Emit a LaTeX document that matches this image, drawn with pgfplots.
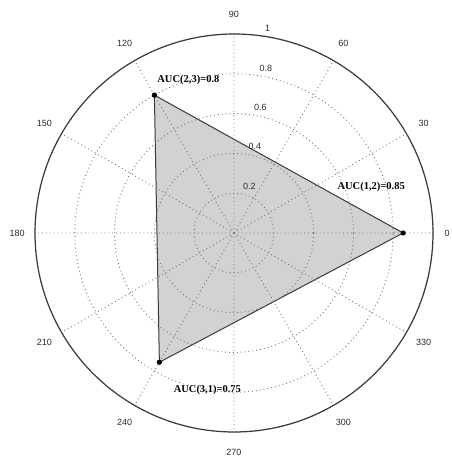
\documentclass[border=0pt]{standalone}
\usepackage{fontspec}
\setmainfont{Liberation Serif}
\newfontfamily\arial{Liberation Sans}
\usepackage{pgfplots}
\pgfplotsset{compat=1.18}
\usepgfplotslibrary{polar}
\definecolor{gridc}{HTML}{707070}
\definecolor{linec}{HTML}{3A3A3A}
\definecolor{fillc}{HTML}{D2D2D2}
\definecolor{labc}{HTML}{2A2A2A}
\tikzset{
  tl/.style={labc, font=\arial\fontsize{9}{10}\selectfont, inner sep=0pt},
  al/.style={black, font=\fontsize{10.5}{12}\selectfont\bfseries, inner sep=0pt},
}
\begin{document}
\begin{tikzpicture}
\begin{polaraxis}[
  width=398pt, height=398pt, scale only axis,
  ymin=0, ymax=1,
  xtick={0,30,...,330}, ytick={0.2,0.4,0.6,0.8,1},
  xticklabels={}, yticklabels={},
  major tick length=0pt,
  grid=major,
  major grid style={gridc, line width=0.9pt, dash pattern=on 0.9pt off 3pt},
  x axis line style={linec, line width=1.2pt},
  y axis line style={draw=none},
  axis on top,
  clip=false,
]
\addplot[draw=linec, line width=1pt, fill=fillc, mark=*, mark size=2.1pt,
  mark options={fill=black, draw=black}] coordinates {(0,0.85) (120,0.8) (240,0.75)} -- cycle;
\coordinate (c) at (axis cs:0,0);
% angle labels
\node[tl, anchor=east] at (axis cs:0,1.085) {0};
\node[tl] at (axis cs:30,1.1) {30};
\node[tl] at (axis cs:60,1.1) {60};
\node[tl] at (axis cs:90,1.1) {90};
\node[tl] at (axis cs:120,1.1) {120};
\node[tl] at (axis cs:150,1.1) {150};
\node[tl] at (axis cs:180,1.09) {180};
\node[tl] at (axis cs:210,1.1) {210};
\node[tl] at (axis cs:240,1.1) {240};
\node[tl] at (axis cs:270,1.1) {270};
\node[tl] at (axis cs:300,1.1) {300};
\node[tl] at (axis cs:330,1.1) {330};
% radial labels
\node[tl, anchor=south west, xshift=3pt, yshift=2pt] at (axis cs:82,0.21) {0.2};
\node[tl, anchor=south west, xshift=3pt, yshift=2pt] at (axis cs:82,0.41) {0.4};
\node[tl, anchor=south west, xshift=3pt, yshift=2pt] at (axis cs:82,0.61) {0.6};
\node[tl, anchor=south west, xshift=3pt, yshift=2pt] at (axis cs:82,0.81) {0.8};
\node[tl, anchor=south west, xshift=3pt, yshift=2pt] at (axis cs:82,1.01) {1};
% data labels
\node[al, xshift=-32pt, yshift=46pt] at (axis cs:0,0.85) {AUC(1,2)=0.85};
\node[al, xshift=34pt, yshift=15pt] at (axis cs:120,0.8) {AUC(2,3)=0.8};
\node[al, xshift=48pt, yshift=-28pt] at (axis cs:240,0.75) {AUC(3,1)=0.75};
\end{polaraxis}
\pgfresetboundingbox
\path[use as bounding box] (c) ++(-234pt,-226pt) rectangle ++(451pt,459pt);
\end{tikzpicture}
\end{document}
